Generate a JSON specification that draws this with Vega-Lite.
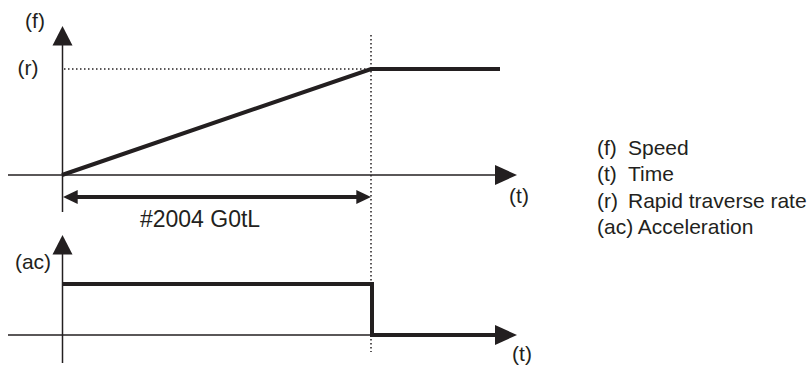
{
  "$schema": "https://vega.github.io/schema/vega-lite/v6.json",
  "width": 811,
  "height": 365,
  "autosize": {"type": "none"},
  "padding": 0,
  "background": "white",
  "config": {"view": {"stroke": null}},
  "datasets": {
    "axes": [
      {"t": 8, "t2": 500, "v": 175, "v2": 175},
      {"t": 62.5, "t2": 62.5, "v": 44, "v2": 212},
      {"t": 8, "t2": 500, "v": 335, "v2": 335},
      {"t": 62.5, "t2": 62.5, "v": 253, "v2": 363}
    ],
    "dotted": [
      {"t": 371, "t2": 371, "v": 35, "v2": 352},
      {"t": 64, "t2": 371, "v": 69, "v2": 69}
    ],
    "curves": [
      {"series": "f", "o": 1, "t": 62, "v": 175},
      {"series": "f", "o": 2, "t": 371, "v": 69},
      {"series": "f", "o": 3, "t": 500, "v": 69},
      {"series": "ac", "o": 1, "t": 62, "v": 284},
      {"series": "ac", "o": 2, "t": 372, "v": 284},
      {"series": "ac", "o": 3, "t": 372, "v": 335},
      {"series": "ac", "o": 4, "t": 497, "v": 335}
    ],
    "dim": [{"t": 70, "t2": 364, "v": 197, "v2": 197}],
    "arrowUp": [{"t": 62.5, "v": 26}, {"t": 62.5, "v": 235}],
    "arrowRight": [{"t": 517, "v": 175}, {"t": 517, "v": 335}],
    "arrowLeftDim": [{"t": 63, "v": 197}],
    "arrowRightDim": [{"t": 371, "v": 197}],
    "labels": [
      {"t": 35, "v": 22, "text": "(f)"},
      {"t": 28, "v": 69, "text": "(r)"},
      {"t": 33, "v": 263, "text": "(ac)"},
      {"t": 519, "v": 197, "text": "(t)"},
      {"t": 522, "v": 355, "text": "(t)"}
    ],
    "note": [{"t": 200, "v": 220, "text": "#2004 G0tL"}],
    "legendKeys": [
      {"t": 597, "v": 149, "text": "(f)"},
      {"t": 597, "v": 175, "text": "(t)"},
      {"t": 597, "v": 202, "text": "(r)"},
      {"t": 597, "v": 228, "text": "(ac) Acceleration"},
      {"t": 628, "v": 149, "text": "Speed"},
      {"t": 628, "v": 175, "text": "Time"},
      {"t": 628, "v": 202, "text": "Rapid traverse rate"}
    ]
  },
  "layer": [
    {
      "data": {"name": "axes"},
      "mark": {"type": "rule", "color": "#231f20", "strokeWidth": 1.5},
      "encoding": {
        "x": {"field": "t", "type": "quantitative", "scale": {"domain": [0, 811], "nice": false, "zero": false}, "axis": null},
        "x2": {"field": "t2"},
        "y": {"field": "v", "type": "quantitative", "scale": {"domain": [0, 365], "nice": false, "zero": false, "reverse": true}, "axis": null},
        "y2": {"field": "v2"}
      }
    },
    {
      "data": {"name": "dotted"},
      "mark": {"type": "rule", "color": "#231f20", "strokeWidth": 1.5, "strokeDash": [1.5, 2.5]},
      "encoding": {
        "x": {"field": "t", "type": "quantitative", "scale": {"domain": [0, 811], "nice": false, "zero": false}, "axis": null},
        "x2": {"field": "t2"},
        "y": {"field": "v", "type": "quantitative", "scale": {"domain": [0, 365], "nice": false, "zero": false, "reverse": true}, "axis": null},
        "y2": {"field": "v2"}
      }
    },
    {
      "data": {"name": "curves"},
      "mark": {"type": "line", "color": "#231f20", "strokeWidth": 4, "strokeJoin": "miter", "strokeCap": "butt"},
      "encoding": {
        "x": {"field": "t", "type": "quantitative", "scale": {"domain": [0, 811], "nice": false, "zero": false}, "axis": null},
        "y": {"field": "v", "type": "quantitative", "scale": {"domain": [0, 365], "nice": false, "zero": false, "reverse": true}, "axis": null},
        "detail": {"field": "series"},
        "order": {"field": "o", "type": "quantitative"}
      }
    },
    {
      "data": {"name": "dim"},
      "mark": {"type": "rule", "color": "#231f20", "strokeWidth": 4},
      "encoding": {
        "x": {"field": "t", "type": "quantitative", "scale": {"domain": [0, 811], "nice": false, "zero": false}, "axis": null},
        "x2": {"field": "t2"},
        "y": {"field": "v", "type": "quantitative", "scale": {"domain": [0, 365], "nice": false, "zero": false, "reverse": true}, "axis": null},
        "y2": {"field": "v2"}
      }
    },
    {
      "data": {"name": "arrowUp"},
      "mark": {"type": "point", "shape": "M0,0L1,1.95L-1,1.95Z", "size": 400, "filled": true, "color": "#231f20", "opacity": 1},
      "encoding": {
        "x": {"field": "t", "type": "quantitative", "scale": {"domain": [0, 811], "nice": false, "zero": false}, "axis": null},
        "y": {"field": "v", "type": "quantitative", "scale": {"domain": [0, 365], "nice": false, "zero": false, "reverse": true}, "axis": null}
      }
    },
    {
      "data": {"name": "arrowRight"},
      "mark": {"type": "point", "shape": "M0,0L-2.2,-1L-2.2,1Z", "size": 400, "filled": true, "color": "#231f20", "opacity": 1},
      "encoding": {
        "x": {"field": "t", "type": "quantitative", "scale": {"domain": [0, 811], "nice": false, "zero": false}, "axis": null},
        "y": {"field": "v", "type": "quantitative", "scale": {"domain": [0, 365], "nice": false, "zero": false, "reverse": true}, "axis": null}
      }
    },
    {
      "data": {"name": "arrowLeftDim"},
      "mark": {"type": "point", "shape": "M0,0L2.1,-1L2.1,1Z", "size": 196, "filled": true, "color": "#231f20", "opacity": 1},
      "encoding": {
        "x": {"field": "t", "type": "quantitative", "scale": {"domain": [0, 811], "nice": false, "zero": false}, "axis": null},
        "y": {"field": "v", "type": "quantitative", "scale": {"domain": [0, 365], "nice": false, "zero": false, "reverse": true}, "axis": null}
      }
    },
    {
      "data": {"name": "arrowRightDim"},
      "mark": {"type": "point", "shape": "M0,0L-2.1,-1L-2.1,1Z", "size": 196, "filled": true, "color": "#231f20", "opacity": 1},
      "encoding": {
        "x": {"field": "t", "type": "quantitative", "scale": {"domain": [0, 811], "nice": false, "zero": false}, "axis": null},
        "y": {"field": "v", "type": "quantitative", "scale": {"domain": [0, 365], "nice": false, "zero": false, "reverse": true}, "axis": null}
      }
    },
    {
      "data": {"name": "labels"},
      "mark": {"type": "text", "font": "Liberation Sans", "fontSize": 21, "color": "#231f20", "align": "center", "baseline": "middle"},
      "encoding": {
        "x": {"field": "t", "type": "quantitative", "scale": {"domain": [0, 811], "nice": false, "zero": false}, "axis": null},
        "y": {"field": "v", "type": "quantitative", "scale": {"domain": [0, 365], "nice": false, "zero": false, "reverse": true}, "axis": null},
        "text": {"field": "text"}
      }
    },
    {
      "data": {"name": "note"},
      "mark": {"type": "text", "font": "Liberation Sans", "fontSize": 23, "color": "#231f20", "align": "center", "baseline": "middle"},
      "encoding": {
        "x": {"field": "t", "type": "quantitative", "scale": {"domain": [0, 811], "nice": false, "zero": false}, "axis": null},
        "y": {"field": "v", "type": "quantitative", "scale": {"domain": [0, 365], "nice": false, "zero": false, "reverse": true}, "axis": null},
        "text": {"field": "text"}
      }
    },
    {
      "data": {"name": "legendKeys"},
      "mark": {"type": "text", "font": "Liberation Sans", "fontSize": 21, "color": "#231f20", "align": "left", "baseline": "middle"},
      "encoding": {
        "x": {"field": "t", "type": "quantitative", "scale": {"domain": [0, 811], "nice": false, "zero": false}, "axis": null},
        "y": {"field": "v", "type": "quantitative", "scale": {"domain": [0, 365], "nice": false, "zero": false, "reverse": true}, "axis": null},
        "text": {"field": "text"}
      }
    }
  ]
}
